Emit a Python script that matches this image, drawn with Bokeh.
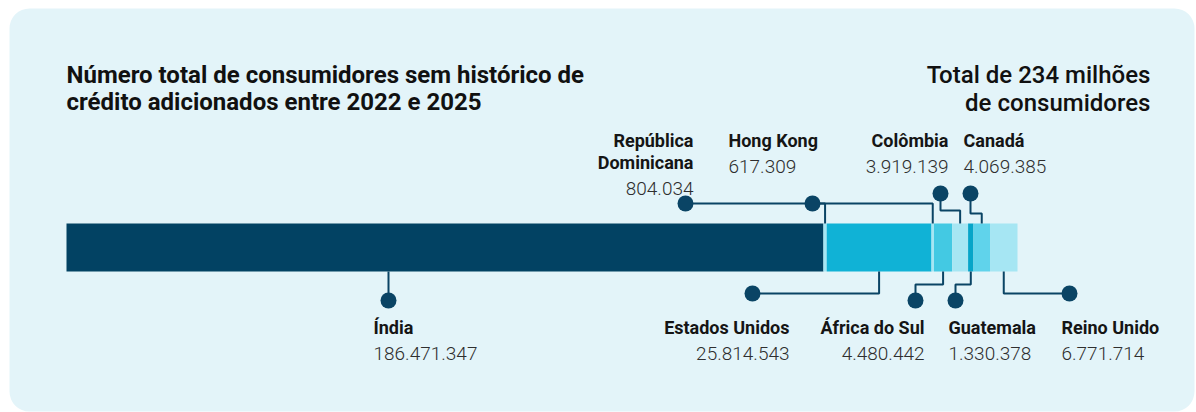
import numpy as np
from bokeh.plotting import figure
from bokeh.models import Range1d, BoxAnnotation
from bokeh.core.properties import value
from bokeh.embed import file_html
from bokeh.resources import INLINE

# ---------------- data ----------------
countries = ["Índia", "República Dominicana", "Estados Unidos", "Hong Kong",
             "África do Sul", "Colômbia", "Guatemala", "Canadá", "Reino Unido"]
consumers = [186471347, 804034, 25814543, 617309,
             4480442, 3919139, 1330378, 4069385, 6771714]
seg_colors = ["#024263", "#a6e6f3", "#10b2d6", "#a6e6f3",
              "#43c9e3", "#a6e6f3", "#06a5c9", "#60d3eb", "#a6e6f3"]
title_lines = ["Número total de consumidores sem histórico de",
               "crédito adicionados entre 2022 e 2025"]

# ---------------- layout ----------------
W, H = 1196, 412
total = sum(consumers)
BAR_L, BAR_R = 66, 1017
scale = (BAR_R - BAR_L) / total


def dx(px):
    """screen px -> data units along x (layout anchors only)"""
    return (px - BAR_L) / scale


BT, BB = 223, 271
NAVY = "#0a4465"
FONT = value("Roboto")
LIGHT = value("Roboto Light")

p = figure(width=W, height=H, x_range=Range1d(dx(0), dx(W)), y_range=Range1d(H, 0),
           output_backend="svg", toolbar_location=None,
           x_axis_type=None, y_axis_type=None, min_border=0,
           outline_line_color=None, background_fill_color="white",
           border_fill_color="white")
p.xgrid.visible = False
p.ygrid.visible = False

p.add_layout(BoxAnnotation(left=dx(9), right=dx(1194), top=8, bottom=411,
                           fill_color="#e3f4f9", fill_alpha=1, line_color=None,
                           border_radius=20, level="underlay"))

right = np.cumsum(consumers)
left = right - np.array(consumers)
center = (left + right) / 2

p.hbar(y=(BT + BB) / 2, left=left, right=right, height=BB - BT,
       color=seg_colors, line_color=None)


def fmt(v):
    return f"{v:,}".replace(",", ".")


TOP_Y, BOT_Y = 140, 327
# label layout: dot position (px), text x (px), align, name lines, first line y
labels = {
    0: dict(dot=(388, 300), tx=373, align="left", names=["Índia"], y0=BOT_Y),
    1: dict(dot=(685, 203), tx=693, align="right", names=["República", "Dominicana"], y0=TOP_Y),
    2: dict(dot=(752, 293), tx=789, align="right", names=["Estados Unidos"], y0=BOT_Y),
    3: dict(dot=(812, 203), tx=728, align="left", names=["Hong Kong"], y0=TOP_Y),
    4: dict(dot=(915, 300), tx=924, align="right", names=["África do Sul"], y0=BOT_Y),
    5: dict(dot=(940, 193), tx=948, align="right", names=["Colômbia"], y0=TOP_Y),
    6: dict(dot=(955, 300), tx=948, align="left", names=["Guatemala"], y0=BOT_Y),
    7: dict(dot=(970, 193), tx=963, align="left", names=["Canadá"], y0=TOP_Y),
    8: dict(dot=(1069, 293), tx=1061, align="left", names=["Reino Unido"], y0=BOT_Y),
}

# connectors
xs, ys = [], []
c = center
xs.append([dx(388), dx(388)]); ys.append([BB, 300])                           # Índia
xs.append([dx(685), c[1], c[1]]); ys.append([203, 203, BT])                   # Rep. Dominicana
xs.append([dx(752), c[2], c[2]]); ys.append([293, 293, BB])                   # Estados Unidos
xs.append([dx(812), c[3], c[3]]); ys.append([203, 203, BT])                   # Hong Kong
xs.append([dx(915), dx(915), c[4], c[4]]); ys.append([300, 284, 284, BB])     # África do Sul
xs.append([dx(940), dx(940), c[5], c[5]]); ys.append([193, 210, 210, BT])     # Colômbia
xs.append([dx(955), dx(955), c[6], c[6]]); ys.append([300, 284, 284, BB])     # Guatemala
xs.append([dx(970), dx(970), c[7], c[7]]); ys.append([193, 213, 213, BT])     # Canadá
xs.append([c[8], c[8], dx(1069)]); ys.append([BB, 293, 293])                  # Reino Unido

p.multi_line(xs=xs, ys=ys, line_color=NAVY, line_width=2)

p.scatter(x=[dx(labels[i]["dot"][0]) for i in range(len(countries))],
          y=[labels[i]["dot"][1] for i in range(len(countries))],
          size=16, color=NAVY, line_color=None)

for i, v in enumerate(consumers):
    L = labels[i]
    y = L["y0"]
    for j, nm in enumerate(L["names"]):
        if j:
            y += 22
        p.text(x=[dx(L["tx"])], y=[y], text=[nm], text_font=FONT, text_font_style="bold",
               text_font_size="18px", text_color="#151515", text_align=L["align"],
               text_baseline="alphabetic")
    p.text(x=[dx(L["tx"])], y=[y + 26], text=[fmt(v)], text_font=LIGHT,
           text_font_size="19px", text_color="#2e2e2e", text_align=L["align"],
           text_baseline="alphabetic")

# titles
for k, t in enumerate(title_lines):
    p.text(x=[dx(66)], y=[74 + 27 * k], text=[t], text_font=FONT, text_font_style="bold",
           text_font_size="24px", text_color="#111111", text_align="left",
           text_baseline="alphabetic")

right_title = [f"Total de {round(total / 1e6)} milhões", "de consumidores"]
for k, t in enumerate(right_title):
    p.text(x=[dx(1150)], y=[74 + 28 * k], text=[t], text_font=value("Roboto Medium"),
           text_font_size="24px", text_color="#111111", text_align="right",
           text_baseline="alphabetic")

open("out.html", "w").write(file_html(p, INLINE))
